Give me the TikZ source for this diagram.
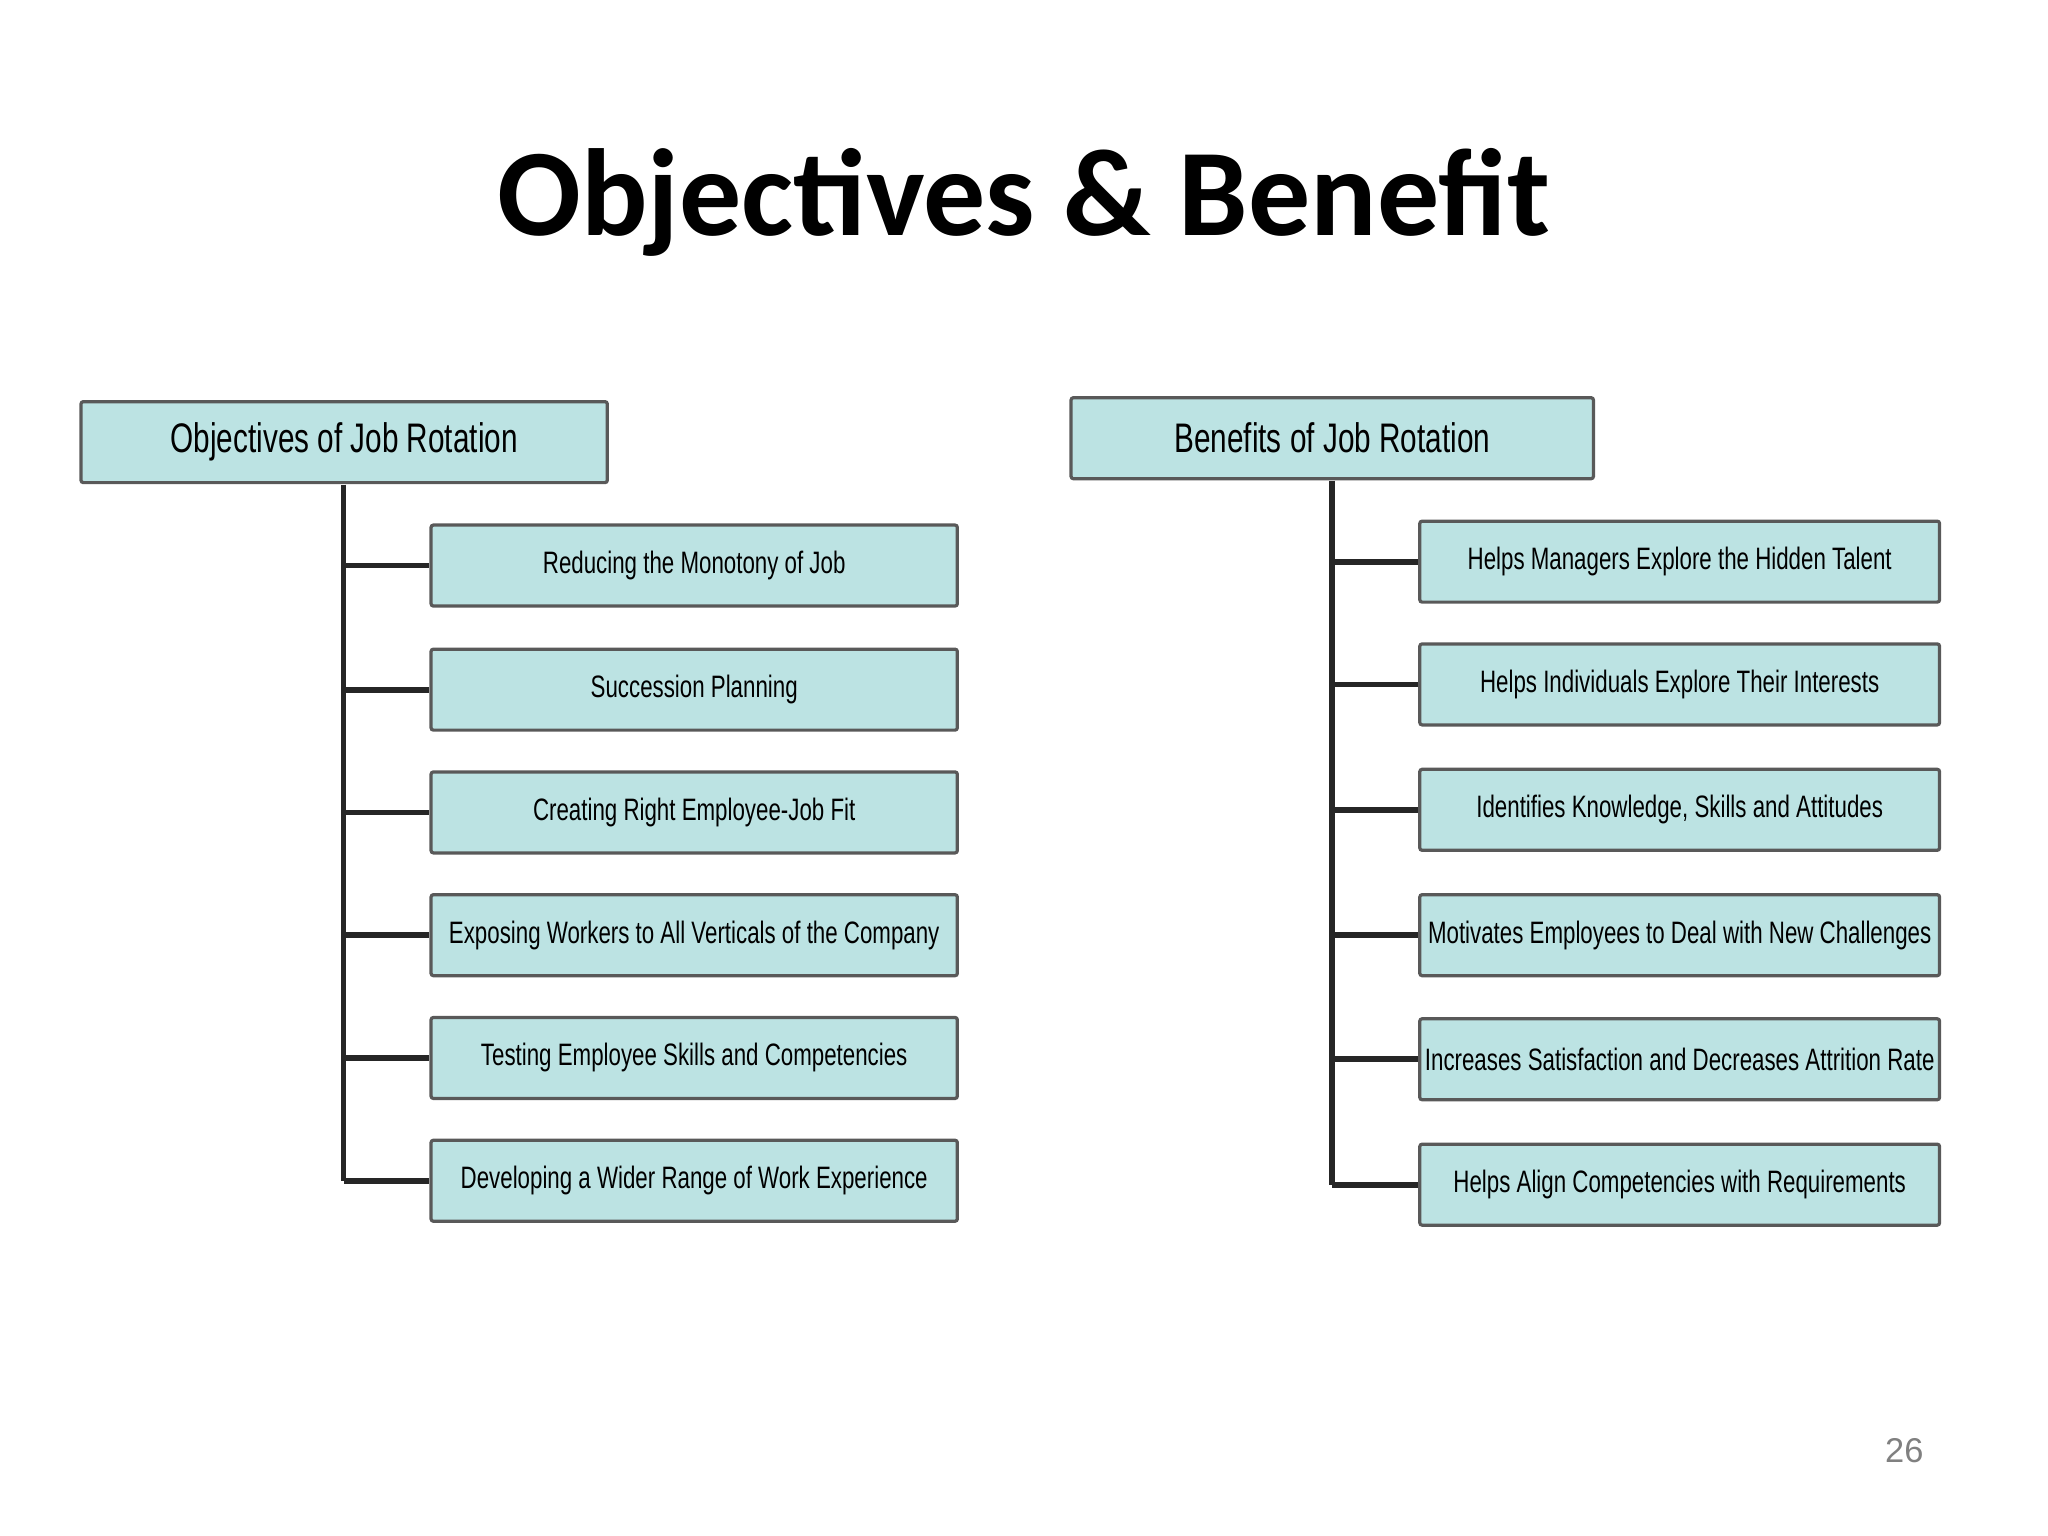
\documentclass[tikz,border=0pt]{standalone}
\usepackage{fontspec}
\setmainfont{Carlito}
\newfontfamily\boxfont[FakeStretch=0.72]{Liberation Sans}
\newfontfamily\pgfont{Liberation Sans}
\definecolor{boxfill}{HTML}{BCE3E3}
\begin{document}
\begin{tikzpicture}[x=0.02cm,y=-0.02cm,
 bx/.style={draw=black!65,line width=1.4pt,fill=boxfill,rounded corners=1pt,
   minimum height=1.24cm,inner sep=0pt,font=\boxfont\fontsize{13.5}{15}\selectfont},
 hd/.style={bx,font=\boxfont\fontsize{18}{20}\selectfont},
 ln/.style={line width=2.5pt,black!85}]
\useasboundingbox (0,0) rectangle (1568,1176);
\node[font=\bfseries\fontsize{54}{60}\selectfont] (title) at (784,155) {Objectives \& Benefit};
\node[font=\pgfont\fontsize{15}{18}\selectfont,text=black!50] (pg) at (1458,1111) {26};
% left
\node[hd,minimum width=8.06cm] (L) at (263.5,338.5) {Objectives of Job Rotation};
\coordinate (Lt) at (263,371);
\foreach \y/\t [count=\i] in {433/Reducing the Monotony of Job,528/Succession Planning,622/Creating Right Employee-Job Fit,716/Exposing Workers to All Verticals of the Company,810/Testing Employee Skills and Competencies,904/Developing a Wider Range of Work Experience}{
 \node[bx,minimum width=8.06cm] (l\i) at (531.5,\y) {\t};
 \coordinate (lc\i) at (263,\y);
 \draw[ln] (lc\i) -- (l\i.west);}
\draw[ln] (Lt) -- (lc6);
% right
\node[hd,minimum width=8cm] (R) at (1020,335.5) {Benefits of Job Rotation};
\coordinate (Rt) at (1020,368);
\foreach \y/\t [count=\i] in {430/Helps Managers Explore the Hidden Talent,524/Helps Individuals Explore Their Interests,620/Identifies Knowledge{,} Skills and Attitudes,716/Motivates Employees to Deal with New Challenges,811/Increases Satisfaction and Decreases Attrition Rate,907/Helps Align Competencies with Requirements}{
 \node[bx,minimum width=7.96cm] (r\i) at (1286,\y) {\t};
 \coordinate (rc\i) at (1020,\y);
 \draw[ln] (rc\i) -- (r\i.west);}
\draw[ln] (Rt) -- (rc6);
\end{tikzpicture}
\end{document}
